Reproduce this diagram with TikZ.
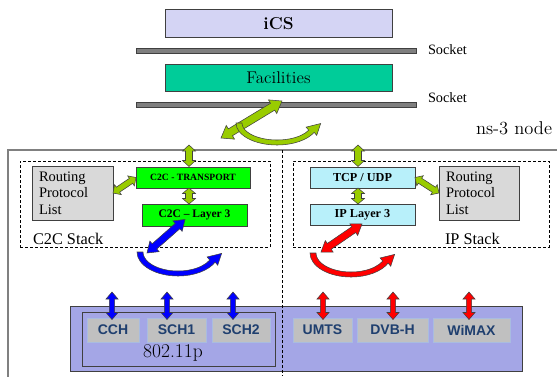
\documentclass[tikz,border=0pt]{standalone}
\usepackage{fontspec}
\setmainfont{Liberation Serif}
\setsansfont{Liberation Sans}
\newfontfamily\lmrfont{Latin Modern Roman}
\usetikzlibrary{calc}
\definecolor{icsfill}{HTML}{D4D4F4}
\definecolor{facfill}{HTML}{00CC99}
\definecolor{sockfill}{HTML}{7F7F7F}
\definecolor{edgec}{HTML}{404040}
\definecolor{routefill}{HTML}{D9D9D9}
\definecolor{c2cfill}{HTML}{00FF00}
\definecolor{ipfill}{HTML}{B8F0FA}
\definecolor{basefill}{HTML}{A4A6E6}
\definecolor{chanfill}{HTML}{C0C0C0}
\definecolor{chantext}{HTML}{1F3F6F}
\definecolor{chanedge}{HTML}{A9BCE0}
\definecolor{agreen}{HTML}{99CC00}
\definecolor{ablue}{HTML}{0000FF}
\definecolor{ared}{HTML}{FF0000}
\definecolor{outerc}{HTML}{808080}

% font size given in reference pixels; one pixel is 0.75pt
\newcommand{\fsz}[1]{\pgfmathsetmacro\fszv{#1*0.75}\fontsize{\fszv pt}{\fszv pt}\selectfont}

% block double arrow: color, A, B, shaft half width, head half width, head length (pixels)
\newcommand{\dblarrow}[6]{%
 \pgfmathsetmacro\dbS{#4*0.75}\pgfmathsetmacro\dbH{#5*0.75}\pgfmathsetmacro\dbL{#6*0.75}%
 \filldraw[fill=#1, draw=edgec, line width=0.4pt, line join=miter]
 (#2) -- ($(#2)!\dbL pt!(#3)!\dbH pt!90:(#3)$) -- ($(#2)!\dbL pt!(#3)!\dbS pt!90:(#3)$)
 -- ($(#3)!\dbL pt!(#2)!\dbS pt!-90:(#2)$) -- ($(#3)!\dbL pt!(#2)!\dbH pt!-90:(#2)$)
 -- (#3) -- ($(#3)!\dbL pt!(#2)!\dbH pt!90:(#2)$) -- ($(#3)!\dbL pt!(#2)!\dbS pt!90:(#2)$)
 -- ($(#2)!\dbL pt!(#3)!\dbS pt!-90:(#3)$) -- ($(#2)!\dbL pt!(#3)!\dbH pt!-90:(#3)$) -- cycle;}

% curved arrow: cx, cy, rx, ry, inner rx, inner ry, end angle, head direction, color
\newcommand{\crescent}[9]{%
 \pgfmathsetmacro\crsOx{#1+#3*cos(#7)}\pgfmathsetmacro\crsOy{#2+#4*sin(#7)}%
 \pgfmathsetmacro\crsIx{#1+#5*cos(#7)}\pgfmathsetmacro\crsIy{#2+#6*sin(#7)}%
 \pgfmathsetmacro\crsTx{cos(#8)}\pgfmathsetmacro\crsTy{-sin(#8)}%
 \pgfmathsetmacro\crsNx{sin(#8)}\pgfmathsetmacro\crsNy{cos(#8)}%
 \pgfmathsetmacro\crsWox{\crsOx+4*\crsNx}\pgfmathsetmacro\crsWoy{\crsOy+4*\crsNy}%
 \pgfmathsetmacro\crsWix{\crsIx-4*\crsNx}\pgfmathsetmacro\crsWiy{\crsIy-4*\crsNy}%
 \pgfmathsetmacro\crsPx{(\crsOx+\crsIx)/2+12*\crsTx}\pgfmathsetmacro\crsPy{(\crsOy+\crsIy)/2+12*\crsTy}%
 \filldraw[fill=#9, draw=edgec, line width=0.4pt, line join=miter]
 ({#1-#3},#2) arc[start angle=180, end angle=#7, x radius=#3, y radius=#4]
 -- (\crsWox,\crsWoy) -- (\crsPx,\crsPy) -- (\crsWix,\crsWiy) -- (\crsIx,\crsIy)
 arc[start angle=#7, end angle=180, x radius=#5, y radius=#6] -- cycle;}

\tikzset{
 box/.style={draw=edgec, line width=0.6pt, inner sep=0pt, outer sep=0pt},
 sockbar/.style={box, fill=sockfill, minimum width=210pt, minimum height=3.75pt},
 socklabel/.style={anchor=west, font=\fsz{14.3}},
 stackbox/.style={draw=black, line width=0.5pt, dash pattern=on 2.25pt off 1.5pt, inner sep=0pt},
 routebox/.style={box, fill=routefill, minimum height=40.5pt, align=left, font=\fontsize{10.875pt}{12.375pt}\selectfont, inner xsep=5.25pt, anchor=west},
 c2cbox/.style={box, fill=c2cfill},
 ipbox/.style={box, fill=ipfill, font=\bfseries\fsz{12.2}, minimum width=78.75pt, minimum height=15.75pt},
 chan/.style={fill=chanfill, draw=chanedge, line width=0.4pt, minimum height=18pt, font=\sffamily\bfseries\fsz{14}, text=chantext},
 stacklabel/.style={anchor=west, font=\fsz{16.3}},
}

\begin{document}
\begin{tikzpicture}[x=0.75pt,y=-0.75pt, every node/.style={inner sep=0pt, outer sep=0pt}]
\clip (0,0) rectangle (557,376);

% top layers
\node[box, fill=icsfill, minimum width=170.25pt, minimum height=21pt, font=\lmrfont\bfseries\fsz{17.3}] (ics) at (278.5,23.5) {iCS};
\node[sockbar] (s1) at (276,50.5) {};
\node[socklabel] (s1t) at (428,50) {Socket};
\node[box, fill=facfill, minimum width=170.25pt, minimum height=20.25pt, font=\lmrfont\fsz{17}] (fac) at (278.5,77.5) {Facilities};
\node[sockbar] (s2) at (276,104.5) {};
\node[socklabel] (s2t) at (428,98) {Socket};
\node[anchor=west, font=\lmrfont\fsz{18.5}] (ns3) at (476,128) {ns-3 node};

% outer ns-3 node frame
\draw[outerc, line width=1.1pt] (8,150) rectangle (590,420);

% stacks
\node[stackbox, minimum width=187.5pt, minimum height=64.5pt] (c2cstack) at (145,204) {};
\node[stackbox, minimum width=192pt, minimum height=64.5pt] (ipstack) at (421,204) {};
\node[stacklabel] (c2clab) at (33,239) {C2C Stack};
\node[stacklabel] (iplab) at (445,239) {IP Stack};

\node[routebox, text width=50.25pt] (route1) at (32,193) {Routing\\Protocol\\List};
\node[routebox, text width=49.5pt] (route2) at (439,193) {Routing\\Protocol\\List};
\node[c2cbox, minimum width=85.5pt, minimum height=15.75pt, font=\bfseries\fsz{9.6}] (trans) at (193,177.5) {C2C - TRANSPORT};
\node[c2cbox, minimum width=78.75pt, minimum height=16.5pt, font=\bfseries\fsz{11.5}] (l3) at (194.5,215) {C2C – Layer 3};
\node[ipbox] (tcp) at (362.5,177.5) {TCP / UDP};
\node[ipbox] (ipl3) at (362.5,214.5) {IP Layer 3};

% bottom access technologies
\node[box, fill=basefill, minimum width=339pt, minimum height=48.75pt] (base) at (296,338.5) {};
\node[draw=edgec, line width=0.75pt, minimum width=144.75pt, minimum height=40.5pt] (wifi) at (178.5,339) {};
\node[font=\lmrfont\fsz{19.5}] (wifilab) at (173,353) {802.11p};
\node[chan, minimum width=39pt] (cch) at (113,330) {CCH};
\node[chan, minimum width=44.25pt] (sch1) at (176.5,330) {SCH1};
\node[chan, minimum width=43.5pt] (sch2) at (241,330) {SCH2};
\node[chan, minimum width=44.25pt] (umts) at (322.5,330) {UMTS};
\node[chan, minimum width=53.25pt] (dvbh) at (392.5,330) {DVB-H};
\node[chan, minimum width=57.75pt] (wimax) at (471.5,330) {WiMAX};

% separator
\draw[black, line width=0.5pt, dash pattern=on 2.25pt off 1.5pt] (282,150) -- (282,376);

% coordinates for arrow ends
\coordinate (gtopA) at (282,101);
\coordinate (gtopB) at (221,138);
\coordinate (c2cin) at (189,145);
\coordinate (c2cinb) at (189,166.5);
\coordinate (ipin) at (358,145);
\coordinate (ipinb) at (358,166.5);
\coordinate (transb) at (189,188);
\coordinate (l3t) at (189,204);
\coordinate (tcpb) at (358,188);
\coordinate (ipl3t) at (358,204);
\coordinate (l3d) at (185,219.5);
\coordinate (l3dd) at (147,253);
\coordinate (ipd) at (362,224);
\coordinate (ipdd) at (321,252);

% green arrows
\dblarrow{agreen}{gtopA}{gtopB}{4}{8}{11}
\dblarrow{agreen}{c2cin}{c2cinb}{3.5}{6.5}{6}
\dblarrow{agreen}{ipin}{ipinb}{3.5}{6.5}{6}
\dblarrow{agreen}{transb}{l3t}{3.5}{6.5}{5.5}
\dblarrow{agreen}{tcpb}{ipl3t}{3.5}{6.5}{5.5}
\dblarrow{agreen}{route1.east}{trans.west}{3}{6}{6}
\dblarrow{agreen}{tcp.east}{route2.west}{3}{6}{6}
\crescent{277}{123}{41}{22}{35}{17}{25}{40}{agreen}

% blue / red diagonal and curved arrows
\dblarrow{ablue}{l3d}{l3dd}{3.5}{7}{10}
\dblarrow{ared}{ipd}{ipdd}{3.5}{7}{10}
\crescent{178}{252}{41}{24}{35}{19}{25}{40}{ablue}
\crescent{351}{253}{41}{24}{35}{19}{25}{40}{ared}

% vertical arrows to channels
\coordinate (b1t) at (112,292); \coordinate (b1b) at (112,319.5);
\coordinate (b2t) at (167,292); \coordinate (b2b) at (167,319.5);
\coordinate (b3t) at (233,292); \coordinate (b3b) at (233,319.5);
\coordinate (r1t) at (323,292); \coordinate (r1b) at (323,319.5);
\coordinate (r2t) at (393,292); \coordinate (r2b) at (393,319.5);
\coordinate (r3t) at (469,292); \coordinate (r3b) at (469,319.5);
\dblarrow{ablue}{b1t}{b1b}{2.7}{6}{7}
\dblarrow{ablue}{b2t}{b2b}{2.7}{6}{7}
\dblarrow{ablue}{b3t}{b3b}{2.7}{6}{7}
\dblarrow{ared}{r1t}{r1b}{2.7}{6}{7}
\dblarrow{ared}{r2t}{r2b}{2.7}{6}{7}
\dblarrow{ared}{r3t}{r3b}{2.7}{6}{7}
\end{tikzpicture}
\end{document}
